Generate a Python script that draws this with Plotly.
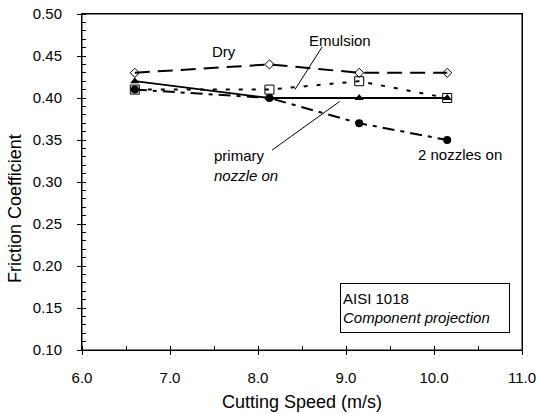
import plotly.graph_objects as go

speed = [6.6, 8.13, 9.15, 10.15]
dry = [0.43, 0.44, 0.43, 0.43]
emulsion = [0.41, 0.41, 0.42, 0.40]
primary = [0.42, 0.40, 0.40, 0.40]
two_nozzles = [0.41, 0.40, 0.37, 0.35]

x_ticks = [6.0, 7.0, 8.0, 9.0, 10.0, 11.0]
y_ticks = [0.10, 0.15, 0.20, 0.25, 0.30, 0.35, 0.40, 0.45, 0.50]

fig = go.Figure()
fig.add_trace(go.Scatter(x=speed, y=dry, mode="lines+markers", name="Dry",
                         line=dict(color="black", width=2, dash="15px,8px"),
                         marker=dict(symbol="diamond-open", size=7, color="black", line=dict(width=1))))
fig.add_trace(go.Scatter(x=speed, y=emulsion, mode="lines+markers", name="Emulsion",
                         line=dict(color="black", width=2, dash="4px,9px"),
                         marker=dict(symbol="square-open", size=9, color="black", line=dict(width=1))))
fig.add_trace(go.Scatter(x=speed, y=primary, mode="lines+markers", name="primary nozzle on",
                         line=dict(color="black", width=1.8),
                         marker=dict(symbol="triangle-up", size=8, color="black")))
fig.add_trace(go.Scatter(x=speed, y=two_nozzles, mode="lines+markers", name="2 nozzles on",
                         line=dict(color="black", width=2, dash="12px,6px,4px,6px"),
                         marker=dict(symbol="circle", size=8, color="black")))

font = "Liberation Sans, Arial, sans-serif"

fig.update_layout(
    width=537, height=414,
    margin=dict(l=82, r=15, t=14, b=64),
    paper_bgcolor="white", plot_bgcolor="white",
    showlegend=False,
    font=dict(family=font, size=15, color="black"),
)
fig.update_xaxes(range=[6.0, 11.0], tickvals=x_ticks, ticktext=[f"{v:.1f}" for v in x_ticks],
                 showgrid=False, zeroline=False, showline=True, linecolor="black", linewidth=1,
                 mirror=True, ticks="outside", ticklen=4, tickcolor="black", ticklabelstandoff=10,
                 minor=dict(dtick=0.5, ticks="inside", ticklen=4, tickcolor="black"),
                 automargin=False, tickfont=dict(size=15))
fig.update_yaxes(range=[0.10, 0.50], tickvals=y_ticks, ticktext=[f"{v:.2f}" for v in y_ticks],
                 showgrid=False, zeroline=False, showline=True, linecolor="black", linewidth=1,
                 mirror=True, ticks="outside", ticklen=4, tickcolor="black", ticklabelstandoff=12,
                 minor=dict(dtick=0.01, ticks="inside", ticklen=4, tickcolor="black"),
                 automargin=False, tickfont=dict(size=15))

# plot frame
fig.add_shape(type="rect", xref="paper", yref="paper", x0=0, y0=0, x1=1, y1=1,
              line=dict(color="black", width=1), layer="above")

# axis titles
fig.add_annotation(xref="paper", yref="paper", x=0.5, y=-0.155, yanchor="middle",
                   text="Cutting Speed (m/s)", showarrow=False, font=dict(size=18))
fig.add_annotation(xref="paper", yref="paper", x=-0.152, y=0.42, xanchor="center",
                   text="Friction Coefficient", textangle=-90, showarrow=False, font=dict(size=18))

# text labels
fig.add_annotation(x=7.61, y=0.455, text="Dry", showarrow=False, font=dict(size=15))
fig.add_annotation(x=8.93, y=0.469, text="Emulsion", showarrow=False, font=dict(size=15))
fig.add_shape(type="line", x0=8.73, y0=0.461, x1=8.42, y1=0.41, line=dict(color="black", width=1))
fig.add_annotation(x=7.48, y=0.32, xanchor="left", text="primary<br><i>nozzle on</i>", showarrow=False,
                   align="left", font=dict(size=15))
fig.add_shape(type="line", x0=8.16, y0=0.338, x1=8.93, y1=0.396, line=dict(color="black", width=1))
fig.add_annotation(x=10.3, y=0.333, text="2 nozzles on", showarrow=False, font=dict(size=15))
fig.add_annotation(x=8.93, y=0.15, xanchor="left", yanchor="middle",
                   text="AISI 1018<br><i>Component projection</i>", showarrow=False,
                   align="left", font=dict(size=15), width=164, height=44,
                   bordercolor="black", borderwidth=1, borderpad=2, bgcolor="white")

fig.write_html("out.html", config={"displayModeBar": False},
               post_script="document.body.style.margin='0';")
